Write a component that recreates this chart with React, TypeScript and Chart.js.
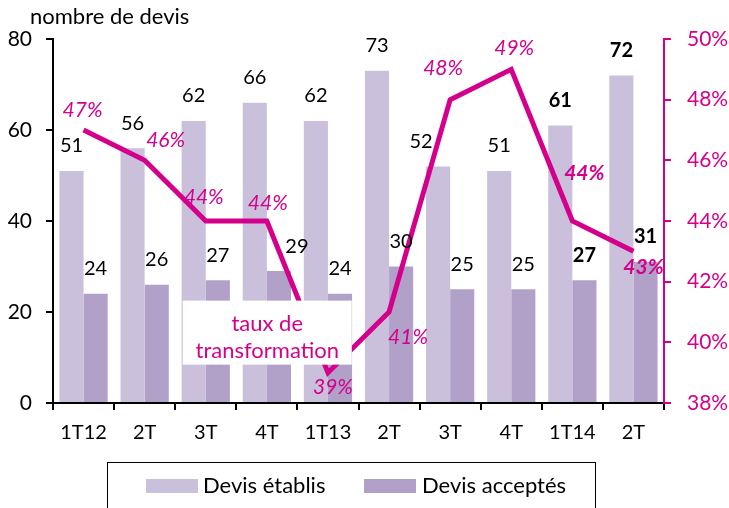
import React, { useEffect, useRef } from "react";
import { Chart, registerables } from "chart.js";
Chart.register(...registerables);

const categories = ["1T12", "2T", "3T", "4T", "1T13", "2T", "3T", "4T", "1T14", "2T"];
const devisEtablis = [51, 56, 62, 66, 62, 73, 52, 51, 61, 72];
const devisAcceptes = [24, 26, 27, 29, 24, 30, 25, 25, 27, 31];
const tauxTransformation = [47, 46, 44, 44, 39, 41, 48, 49, 44, 43];
const leftAxisTitle = "nombre de devis";
const lineLabel = ["taux de", "transformation"];
const boldIndices = [8, 9];

const MAGENTA = "#D4008C";
const LIGHT = "#CAC0DC";
const DARK = "#B1A1C8";
const FONT = "Lato, 'Open Sans', sans-serif";

// label placement (styling)
const etablisDx = [0, 0, 0, 0, 0, 0, -17, 0, 0, 0];
const acceptesDx = [0, 0, 0, 18, 0, 0, 0, 0, 0, 0];
const tauxOff = [[-1, -20], [21, -20], [-2, -24], [1, -18], [5, 15], [19, 25], [-7, -31], [3, -21], [12, -48], [10, 16]];

const overlayPlugin = {
  id: "overlay",
  afterDatasetsDraw(chart: any) {
    const ctx = chart.ctx;
    const y = chart.scales.y;
    const y1 = chart.scales.y1;
    const x = chart.scales.x;
    ctx.save();
    // annotation box
    const bx = x.getPixelForValue(2) - 23;
    const by = y.getPixelForValue(22.5);
    const bw = 169;
    const bh = 64;
    ctx.fillStyle = "#fff";
    ctx.fillRect(bx, by, bw, bh);
    ctx.fillStyle = MAGENTA;
    ctx.font = `22px ${FONT}`;
    ctx.textAlign = "center";
    ctx.textBaseline = "middle";
    ctx.fillText(lineLabel[0], bx + bw / 2, by + 23);
    ctx.fillText(lineLabel[1], bx + bw / 2, by + 50);

    // bar labels
    const m0 = chart.getDatasetMeta(1);
    const m1 = chart.getDatasetMeta(2);
    ctx.fillStyle = "#000";
    devisEtablis.forEach((v, i) => {
      const el = m0.data[i];
      const bold = boldIndices.includes(i);
      ctx.font = `${bold ? "bold " : ""}20px ${FONT}`;
      ctx.fillText(String(v), el.x + etablisDx[i], el.y - 25);
    });
    devisAcceptes.forEach((v, i) => {
      const el = m1.data[i];
      const bold = boldIndices.includes(i);
      ctx.font = `${bold ? "bold " : ""}20px ${FONT}`;
      ctx.fillText(String(v), el.x + acceptesDx[i], el.y - 25);
    });
    // taux labels
    ctx.fillStyle = MAGENTA;
    tauxTransformation.forEach((v, i) => {
      const bold = boldIndices.includes(i);
      ctx.font = `italic ${bold ? "bold " : ""}21px ${FONT}`;
      const px = x.getPixelForValue(i) + tauxOff[i][0];
      const py = y1.getPixelForValue(v) + tauxOff[i][1];
      ctx.fillText(v + "%", px, py);
    });
    // axis title
    ctx.fillStyle = "#000";
    ctx.textAlign = "left";
    ctx.font = `22px ${FONT}`;
    ctx.fillText(leftAxisTitle, 30, 17);

    // legend
    const lx = 107.5, ly = 462.5, lw = 488, lh = 60;
    ctx.strokeStyle = "#000";
    ctx.lineWidth = 1;
    ctx.strokeRect(lx, ly, lw, lh);
    const items = [
      { label: chart.data.datasets[1].label, color: LIGHT, sx: 146, tx: 203 },
      { label: chart.data.datasets[2].label, color: DARK, sx: 364, tx: 422 },
    ];
    ctx.font = `22px ${FONT}`;
    items.forEach((it) => {
      ctx.fillStyle = it.color;
      ctx.fillRect(it.sx, 479, 52, 14);
      ctx.fillStyle = "#000";
      ctx.fillText(it.label, it.tx, 486);
    });
    ctx.restore();
  },
};

export default function App() {
  const ref = useRef<HTMLCanvasElement>(null);
  useEffect(() => {
    const chart = new Chart(ref.current!, {
      type: "bar",
      data: {
        labels: categories,
        datasets: [
          {
            type: "line",
            label: "taux de transformation",
            data: tauxTransformation,
            yAxisID: "y1",
            borderColor: MAGENTA,
            backgroundColor: MAGENTA,
            borderWidth: 5,
            pointRadius: 0,
            order: 0,
          } as any,
          {
            type: "bar",
            label: "Devis établis",
            data: devisEtablis,
            yAxisID: "y",
            backgroundColor: LIGHT,
            categoryPercentage: 0.79,
            barPercentage: 1,
            order: 1,
          },
          {
            type: "bar",
            label: "Devis acceptés",
            data: devisAcceptes,
            yAxisID: "y",
            backgroundColor: DARK,
            categoryPercentage: 0.79,
            barPercentage: 1,
            order: 2,
          },
        ],
      },
      options: {
        responsive: false,
        animation: false,
        layout: { padding: { top: 39, left: 0, right: 0, bottom: 0 } },
        plugins: { legend: { display: false }, tooltip: { enabled: false } },
        scales: {
          x: {
            offset: true,
            grid: { display: true, drawOnChartArea: false, offset: true, tickLength: 7, color: "#000", lineWidth: 2 },
            border: { color: "#000", width: 2 },
            ticks: { color: "#000", font: { family: FONT, size: 20 }, padding: 11, maxRotation: 0 },
            afterFit: (s: any) => { s.height = 105; },
          },
          y: {
            position: "left",
            min: 0,
            max: 80,
            ticks: { stepSize: 20, color: "#000", font: { family: FONT, size: 21 }, padding: 14 },
            grid: { drawOnChartArea: false, tickLength: 7, color: "#000", lineWidth: 2 },
            border: { color: "#000", width: 2 },
            afterFit: (s: any) => { s.width = 53; },
          },
          y1: {
            position: "right",
            min: 38,
            max: 50,
            ticks: { stepSize: 2, color: MAGENTA, font: { family: FONT, size: 21 }, padding: 16, callback: (v: any) => v + "%" },
            grid: { drawOnChartArea: false, tickLength: 7, color: MAGENTA, lineWidth: 2 },
            border: { color: MAGENTA, width: 2 },
            afterFit: (s: any) => { s.width = 65; },
          },
        },
      },
      plugins: [overlayPlugin],
    });
    return () => chart.destroy();
  }, []);
  return (
    <div style={{ position: "fixed", left: 0, top: 0, width: 729, height: 508, background: "#fff" }}>
      <canvas ref={ref} width={729} height={508} />
    </div>
  );
}
